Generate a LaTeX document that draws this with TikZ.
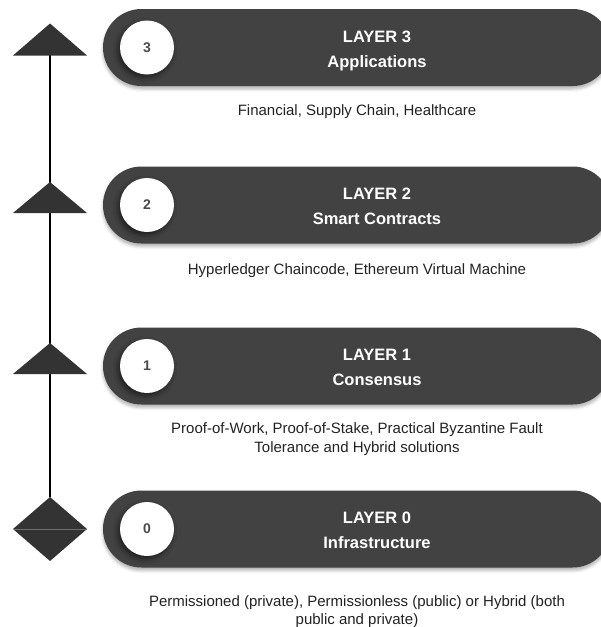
\documentclass[tikz,border=0pt]{standalone}
\usepackage{fontspec}
\setmainfont{Liberation Sans}
\usetikzlibrary{shapes.misc,shadows.blur}
\definecolor{pillgray}{HTML}{424242}
\definecolor{markgray}{HTML}{333333}
\definecolor{numgray}{HTML}{4A4A4A}
\definecolor{desctext}{HTML}{222222}
\definecolor{seamgray}{HTML}{6E6E6E}
\begin{document}
\begin{tikzpicture}[x=1pt,y=-1pt,
  pill/.style={rounded rectangle, fill=pillgray, minimum width=508pt,
    minimum height=77pt, inner sep=0pt,
    blur shadow={shadow xshift=0pt, shadow yshift=-3pt, shadow opacity=30, shadow blur radius=3pt}},
  numdisc/.style={circle, fill=white, minimum size=54pt, inner sep=0pt,
    text=numgray, font=\bfseries\fontsize{14}{16}\selectfont,
    blur shadow={shadow xshift=-2pt, shadow yshift=-3pt, shadow opacity=55, shadow blur radius=5pt}},
  title/.style={anchor=base, text=white, inner sep=0pt, font=\bfseries\fontsize{16.5}{20}\selectfont},
  desc/.style={anchor=base, text=desctext, inner sep=0pt, font=\fontsize{15}{18}\selectfont},
  marker/.style={fill=markgray},
  spine/.style={draw=black, line width=1.3pt}
]
\useasboundingbox (0,0) rectangle (601,627);
\clip (0,0) rectangle (601,627);

% vertical spine joining the markers
\coordinate (top) at (50,55);
\coordinate (bottom) at (50,497);
\draw[spine] (top) -- (bottom);

% level markers
\fill[marker] (50,23.5) -- (87,55.5) -- (13,55.5) -- cycle;
\fill[marker] (50,182) -- (87,213) -- (13,213) -- cycle;
\fill[marker] (50,343) -- (87,374) -- (13,374) -- cycle;
\fill[marker] (50,497) -- (87,529) -- (13,529) -- cycle;
\fill[marker] (13,529) -- (87,529) -- (50,561) -- cycle;
\draw[seamgray, line width=0.7pt] (13.5,529) -- (86.5,529);

% layer bars
\node[pill] (p3) at (357,47.5) {};
\node[pill] (p2) at (357,205) {};
\node[pill] (p1) at (357,366) {};
\node[pill] (p0) at (357,529) {};

% number discs
\node[numdisc] (n3) at (147,47.5) {3};
\node[numdisc] (n2) at (147,205) {2};
\node[numdisc] (n1) at (147,366) {1};
\node[numdisc] (n0) at (147,529) {0};

% titles
\node[title] (t3a) at (377,42.5) {LAYER 3};
\node[title] (t3b) at (377,67) {Applications};
\node[title] (t2a) at (377,199.5) {LAYER 2};
\node[title] (t2b) at (377,224.5) {Smart Contracts};
\node[title] (t1a) at (377,360.5) {LAYER 1};
\node[title] (t1b) at (377,385.5) {Consensus};
\node[title] (t0a) at (377,523.5) {LAYER 0};
\node[title] (t0b) at (377,548.5) {Infrastructure};

% descriptions
\node[desc] (d3) at (357,115.5) {Financial, Supply Chain, Healthcare};
\node[desc] (d2) at (357,274.5) {Hyperledger Chaincode, Ethereum Virtual Machine};
\node[desc] (d1a) at (357,433.5) {Proof-of-Work, Proof-of-Stake, Practical Byzantine Fault};
\node[desc] (d1b) at (357,452) {Tolerance and Hybrid solutions};
\node[desc] (d0a) at (357,606) {Permissioned (private), Permissionless (public) or Hybrid (both};
\node[desc] (d0b) at (357,624) {public and private)};
\end{tikzpicture}
\end{document}
